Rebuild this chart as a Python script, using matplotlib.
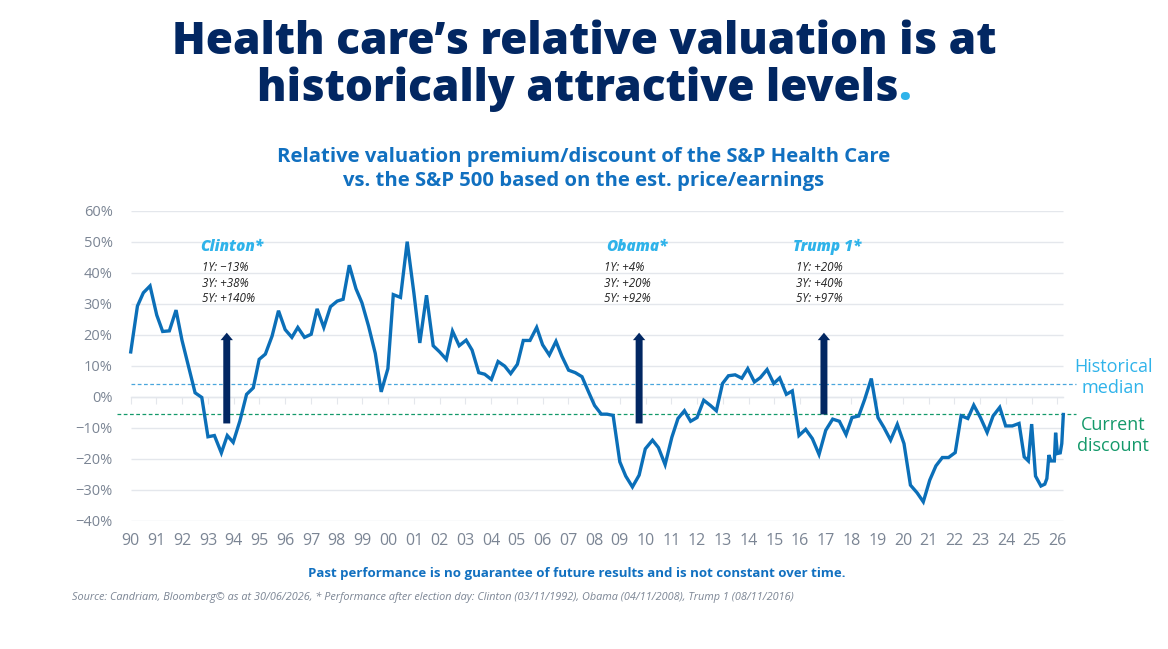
import matplotlib
matplotlib.use("Agg")
import matplotlib.pyplot as plt
import numpy as np

# ---------------- data ----------------
dates = [1990.0, 1990.26, 1990.49, 1990.75, 1991.01, 1991.24, 1991.5, 1991.76, 1991.99, 1992.25,
         1992.5, 1992.76, 1993.0, 1993.25, 1993.52, 1993.75, 1993.98, 1994.24, 1994.5, 1994.76,
         1994.99, 1995.23, 1995.49, 1995.74, 1996.0, 1996.26, 1996.49, 1996.75, 1997.01, 1997.24,
         1997.5, 1997.76, 1998.02, 1998.25, 1998.49, 1998.75, 1998.98, 1999.24, 1999.5, 1999.73,
         1999.99, 2000.2, 2000.48, 2000.74, 2001.0, 2001.23, 2001.49, 2001.75, 2002.0, 2002.26,
         2002.5, 2002.76, 2003.03, 2003.26, 2003.52, 2003.75, 2004.01, 2004.27, 2004.53, 2004.76,
         2005.02, 2005.25, 2005.51, 2005.77, 2006.0, 2006.26, 2006.52, 2006.75, 2007.01, 2007.27,
         2007.53, 2007.79, 2008.02, 2008.28, 2008.5, 2008.74, 2009.0, 2009.23, 2009.49, 2009.75,
         2009.99, 2010.27, 2010.5, 2010.76, 2011.02, 2011.26, 2011.51, 2011.75, 2012.0, 2012.26,
         2012.52, 2012.75, 2012.99, 2013.22, 2013.48, 2013.74, 2013.97, 2014.23, 2014.46, 2014.72,
         2014.98, 2015.21, 2015.47, 2015.7, 2015.96, 2016.22, 2016.48, 2016.74, 2017.0, 2017.27,
         2017.53, 2017.79, 2018.02, 2018.28, 2018.51, 2018.77, 2019.03, 2019.26, 2019.52, 2019.78,
         2020.04, 2020.29, 2020.55, 2020.79, 2021.04, 2021.28, 2021.53, 2021.77, 2022.03, 2022.26,
         2022.52, 2022.75, 2023.01, 2023.27, 2023.5, 2023.76, 2023.99, 2024.25, 2024.51, 2024.71,
         2024.87, 2025.0, 2025.15, 2025.36, 2025.51, 2025.59, 2025.67, 2025.75, 2025.88, 2025.93,
         2026.0, 2026.11, 2026.17, 2026.23]
premium = [14.5, 29.3, 33.6, 35.8, 26.4, 21.1, 21.3, 28.0, 18.3, 9.7,
           1.3, -0.2, -12.9, -12.5, -18.1, -12.5, -14.7, -7.8, 0.8, 2.9,
           12.1, 13.8, 19.6, 27.8, 21.7, 19.2, 22.4, 19.2, 20.2, 28.4,
           22.4, 29.1, 30.9, 31.5, 42.5, 34.9, 30.4, 22.8, 14.0, 1.6,
           9.1, 33.0, 32.1, 50.1, 33.5, 17.4, 32.8, 16.5, 14.5, 12.1,
           21.2, 16.5, 18.3, 15.1, 7.8, 7.3, 5.6, 11.4, 9.9, 7.5,
           10.5, 18.2, 18.2, 22.4, 16.8, 13.5, 17.9, 13.1, 8.6, 7.8,
           6.5, 1.5, -2.8, -5.6, -5.6, -6.0, -21.0, -25.6, -29.1, -25.3,
           -16.8, -14.0, -16.4, -21.9, -13.1, -7.0, -4.5, -7.9, -6.7, -1.1,
           -2.8, -4.5, 4.3, 6.8, 7.1, 6.0, 9.1, 4.8, 6.2, 8.8,
           4.3, 6.1, 0.8, 1.9, -12.5, -10.5, -13.5, -18.6, -10.8, -7.2,
           -7.9, -12.2, -6.7, -6.2, -0.9, 5.9, -6.7, -9.9, -14.0, -8.9,
           -15.1, -28.5, -31.0, -33.9, -26.9, -22.3, -19.6, -19.6, -18.0, -6.1,
           -7.0, -2.7, -6.7, -11.5, -6.2, -3.4, -9.4, -9.4, -8.6, -19.4,
           -20.7, -8.8, -25.6, -28.8, -28.2, -26.4, -18.8, -20.7, -20.7, -11.6,
           -18.3, -18.1, -15.1, -5.7]

historical_median = 4.3
current_discount = -5.7

year_ticks = list(range(1990, 2027))
year_labels = [f"{y % 100:02d}" for y in year_ticks]
y_ticks = [-40, -30, -20, -10, 0, 10, 20, 30, 40, 50, 60]
y_labels = [f"{v}%" if v >= 0 else f"\u2212{-v}%" for v in y_ticks]

elections = ["Clinton*", "Obama*", "Trump 1*"]
arrow_x = [1993.73, 2009.75, 2016.93]
arrow_bottom = [-8.6, -8.6, -5.7]
arrow_top = [20.7, 20.7, 20.7]
perf_lines = [["1Y: \u221213%", "3Y: +38%", "5Y: +140%"],
              ["1Y: +4%", "3Y: +20%", "5Y: +92%"],
              ["1Y: +20%", "3Y: +40%", "5Y: +97%"]]
label_x = [1992.69, 2008.46, 2015.73]
text_x = [1992.76, 2008.38, 2015.85]

title_l1 = "Health care\u2019s relative valuation is at"
title_l2 = "historically attractive levels"
subtitle = ["Relative valuation premium/discount of the S&P Health Care",
            "vs. the S&P 500 based on the est. price/earnings"]
disclaimer = "Past performance is no guarantee of future results and is not constant over time."
source = ("Source: Candriam, Bloomberg\u00a9 as at 30/06/2026, * Performance after election day: "
          "Clinton (03/11/1992), Obama (04/11/2008), Trump 1 (08/11/2016)")

# ---------------- style ----------------
NAVY = "#022762"
LINE = "#0b6fb8"
LIGHT = "#2fb3ea"
GREEN = "#14996a"
GRAY = "#7b8594"
GRID = "#e4e7ec"
SUB = "#1170c0"
FONT = ["Open Sans", "DejaVu Sans"]

plt.rcParams["font.family"] = FONT

W, H = 1168, 649
fig = plt.figure(figsize=(W / 100, H / 100), dpi=100)
renderer = fig.canvas.get_renderer()


def fit(t, target_px):
    """Scale a text's font size so its rendered width matches the reference width."""
    w = t.get_window_extent(renderer=renderer).width
    t.set_fontsize(t.get_fontsize() * target_px / w)
    return t


x0_px, x1_px = 115.3, 1078.0
y_top_px, y_bot_px = 211.0, 520.7
ax = fig.add_axes([x0_px / W, (H - y_bot_px) / H, (x1_px - x0_px) / W, (y_bot_px - y_top_px) / H])
ax.set_xlim(1989.4, 2026.8)
ax.set_ylim(-40, 60)

grid_end = 2026.22
ax.hlines(y_ticks, 1990, grid_end, colors=GRID, lw=1.0, zorder=0)

for s in ["top", "right", "left"]:
    ax.spines[s].set_visible(False)
ax.spines["bottom"].set_position(("data", 0))
ax.spines["bottom"].set_bounds(1990, grid_end)
ax.spines["bottom"].set_color(GRID)
ax.spines["bottom"].set_linewidth(1.0)
ax.set_xticks(year_ticks)
ax.tick_params(axis="x", direction="out", length=5, color=GRID, labelbottom=False)
ax.set_yticks(y_ticks)
ax.set_yticklabels(y_labels)
ax.tick_params(axis="y", length=0, pad=2, labelsize=10.5, labelcolor=GRAY)

sec = ax.secondary_xaxis("bottom")
sec.set_xticks(year_ticks)
sec.set_xticklabels(year_labels)
sec.tick_params(length=0, pad=9, labelsize=11.5, labelcolor=GRAY)
sec.spines["bottom"].set_visible(False)

ax.hlines(historical_median, 1990, 2026.73, colors="#49a6dc", lw=0.9, linestyles=(0, (3, 2)), zorder=1)
ax.hlines(current_discount, 1989.47, 2026.73, colors=GREEN, lw=0.9, linestyles=(0, (3, 2)), zorder=1)

ax.plot(dates, premium, color=LINE, lw=2.4, solid_joinstyle="miter", zorder=3)

for name, ax_x, yb, yt, lines, lx, tx in zip(elections, arrow_x, arrow_bottom, arrow_top,
                                             perf_lines, label_x, text_x):
    ax.arrow(ax_x, yb, 0, yt - yb, width=0.27, head_width=0.48, head_length=2.4,
             length_includes_head=True, color=NAVY, lw=0, zorder=4)
    ax.text(lx, 48.4, name, color=LIGHT, fontsize=11, fontweight="heavy", style="italic",
            ha="left", va="center")
    for k, t in enumerate(lines):
        ax.text(tx, 41.6 - 4.85 * k, t, color="#222222", fontsize=8.4, style="italic",
                ha="left", va="center")

# right labels
fig.text(1113 / W, 1 - 377.5 / H, "Historical\nmedian", color=LIGHT, fontsize=13,
         ha="center", va="center", linespacing=1.15)
fig.text(1113 / W, 1 - 435.5 / H, "Current\ndiscount", color=GREEN, fontsize=13,
         ha="center", va="center", linespacing=1.15)

# titles
t1 = fig.text(0.5, 1 - 42 / H, title_l1, color=NAVY, fontsize=32, fontweight="heavy",
              ha="center", va="center")
fit(t1, 823)
fs_title = t1.get_fontsize()
probe = fig.text(0.5, 1 - 89 / H, title_l2 + ".", color=NAVY, fontsize=fs_title, fontweight="heavy",
                 ha="center", va="center", alpha=0)
bb = probe.get_window_extent(renderer=renderer)
fig.text(bb.x0 / W, 1 - 89 / H, title_l2, color=NAVY, fontsize=fs_title, fontweight="heavy",
         ha="left", va="center")
fig.text(bb.x1 / W, 1 - 89 / H, ".", color=LIGHT, fontsize=fs_title, fontweight="heavy",
         ha="right", va="center")

s1 = fig.text(0.5, 1 - 157 / H, subtitle[0], color=SUB, fontsize=13.5, fontweight="bold",
              ha="center", va="center")
fit(s1, 613)
fig.text(0.5, 1 - 181 / H, subtitle[1], color=SUB, fontsize=s1.get_fontsize(), fontweight="bold",
         ha="center", va="center")

d = fig.text(577 / W, 1 - 573 / H, disclaimer, color=SUB, fontsize=9.5, fontweight="bold",
             ha="center", va="center")
fit(d, 538)
src = fig.text(72 / W, 1 - 597 / H, source, color=GRAY, fontsize=7.2, style="italic",
               ha="left", va="center")
fit(src, 722)

fig.savefig("out.png", dpi=100)
